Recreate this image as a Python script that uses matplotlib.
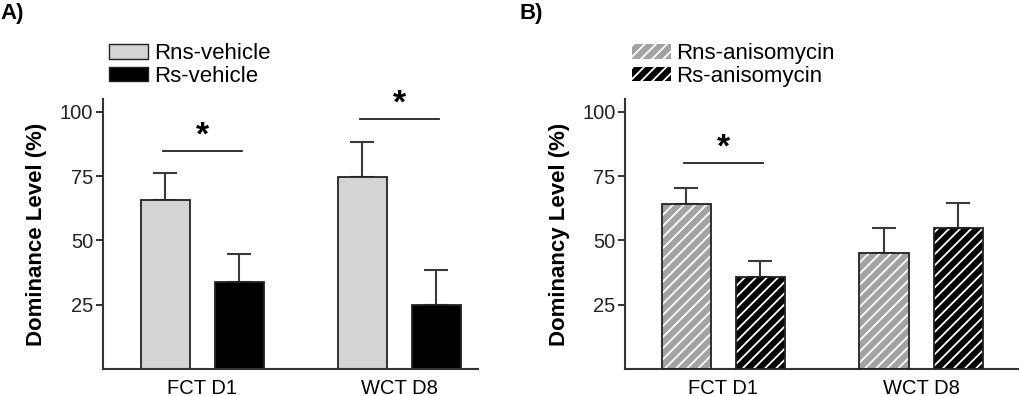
import numpy as np
import matplotlib
matplotlib.use('Agg')
import matplotlib.pyplot as plt
from matplotlib.patches import Patch

plt.rcParams['font.family'] = ['Liberation Sans', 'DejaVu Sans']
plt.rcParams['hatch.linewidth'] = 1.3

# ---------------- data ----------------
groups = ['FCT D1', 'WCT D8']
yticks = [25, 50, 75, 100]

# panel A: vehicle
veh_labels = ['Rns-vehicle', 'Rs-vehicle']
veh_rns = [65.7, 74.7]
veh_rns_err = [10.7, 13.5]
veh_rs = [33.9, 25.1]
veh_rs_err = [10.8, 13.4]
veh_sig = [84.8, 97.2]          # height of significance bar per group

# panel B: anisomycin
ani_labels = ['Rns-anisomycin', 'Rs-anisomycin']
ani_rns = [64.3, 45.0]
ani_rns_err = [6.2, 9.8]
ani_rs = [35.9, 54.8]
ani_rs_err = [6.2, 9.8]
ani_sig = [80.3, None]

W = 0.249
OFF = 0.1875
x = np.arange(len(groups))


def draw_panel(ax, rns, rns_err, rs, rs_err, sig, labels, ylabel, hatched):
    err_kw = dict(ecolor='#3a3a3a', elinewidth=1.5, capsize=8.5, capthick=1.5)
    c1, c2 = '#d4d4d4', 'black'
    if hatched:
        c1 = '#a3a3a3'
        for xs, vals, fc in [(x - OFF, rns, c1), (x + OFF, rs, c2)]:
            ax.bar(xs, vals, W, color=fc, edgecolor='white', hatch='///', linewidth=0, zorder=2)
            ax.bar(xs, vals, W, fill=False, edgecolor='#222222', linewidth=1.3, zorder=3)
    else:
        ax.bar(x - OFF, rns, W, color=c1, edgecolor='#222222', linewidth=1.3, zorder=2)
        ax.bar(x + OFF, rs, W, color=c2, edgecolor='#222222', linewidth=1.3, zorder=2)
    ax.errorbar(x - OFF, rns, yerr=[np.zeros(len(rns)), rns_err], fmt='none', zorder=1, **err_kw)
    ax.errorbar(x + OFF, rs, yerr=[np.zeros(len(rs)), rs_err], fmt='none', zorder=1, **err_kw)

    for i, h in enumerate(sig):
        if h is None:
            continue
        ax.plot([x[i] - 0.2, x[i] + 0.2], [h, h], color='#222222', lw=1.3)
        ax.text(x[i], h - 0.3, '*', ha='center', va='bottom', fontsize=24, fontweight='bold')

    ax.set_ylim(0, 105)
    ax.set_yticks(yticks)
    ax.set_xticks(x)
    ax.set_xticklabels(groups, fontsize=14.5)
    ax.tick_params(axis='x', length=0, pad=7)
    ax.tick_params(axis='y', labelsize=14.5, length=5, width=1.3, colors='#222222', pad=2)
    for s in ['top', 'right']:
        ax.spines[s].set_visible(False)
    for s in ['left', 'bottom']:
        ax.spines[s].set_linewidth(1.5)
        ax.spines[s].set_color('#333333')
    ax.set_ylabel(ylabel, fontsize=16, fontweight='bold', labelpad=9)

    if hatched:
        handles = [Patch(facecolor=c1, edgecolor='white', hatch='///', linewidth=0),
                   Patch(facecolor=c2, edgecolor='white', hatch='///', linewidth=0)]
    else:
        handles = [Patch(facecolor=c1, edgecolor='#222222'),
                   Patch(facecolor=c2, edgecolor='#222222')]
    leg = ax.legend(handles, labels, loc='lower left', bbox_to_anchor=(0.017, 1.045),
                    frameon=False, fontsize=16, handlelength=1.75, handleheight=0.65,
                    handletextpad=0.25, labelspacing=0.08, borderaxespad=0, borderpad=0)
    return leg


fig = plt.figure(figsize=(10.2, 3.96), dpi=100)
axA = fig.add_axes([0.101, 0.068, 0.368, 0.682])
axB = fig.add_axes([0.613, 0.068, 0.387, 0.682])

draw_panel(axA, veh_rns, veh_rns_err, veh_rs, veh_rs_err, veh_sig, veh_labels,
           'Dominance Level (%)', False)
draw_panel(axB, ani_rns, ani_rns_err, ani_rs, ani_rs_err, ani_sig, ani_labels,
           'Dominancy Level (%)', True)
axA.set_xlim(-0.503, 1.40)
axB.set_xlim(-0.496, 1.50)

fig.text(0.0, 0.965, 'A)', fontsize=16, fontweight='bold', va='center')
fig.text(0.509, 0.965, 'B)', fontsize=16, fontweight='bold', va='center')

fig.savefig('out.png', dpi=100)
